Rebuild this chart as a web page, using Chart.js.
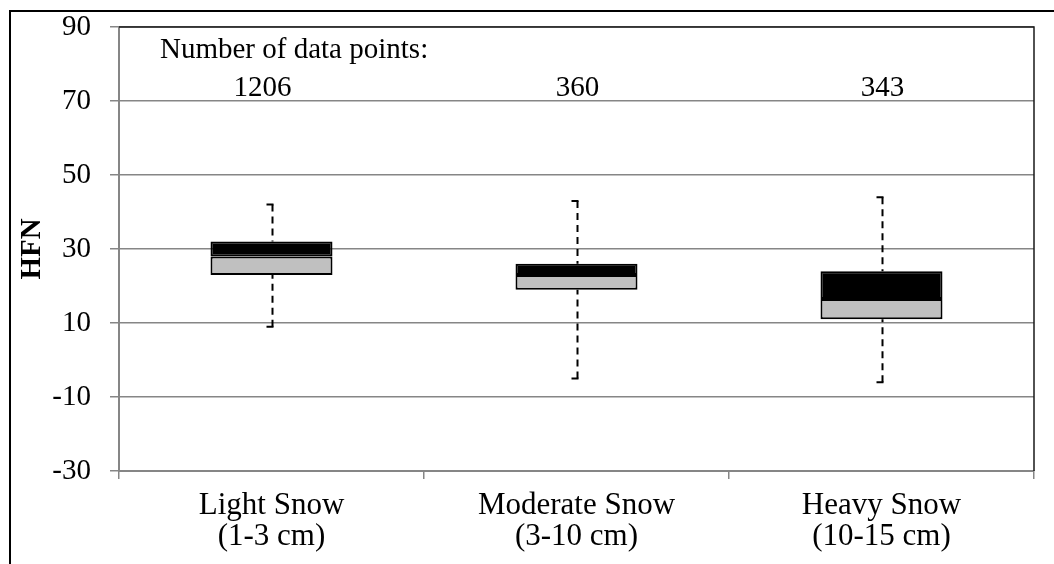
<!DOCTYPE html>
<html>
<head>
<meta charset="utf-8">
<script src="https://cdn.jsdelivr.net/npm/chart.js@4.4.1/dist/chart.umd.min.js"></script>
<style>
  html, body { margin: 0; padding: 0; background: #fff; }
  #wrap { position: relative; width: 1054px; height: 564px; }
</style>
</head>
<body>
<div id="wrap"><canvas id="c" width="1054" height="564"></canvas></div>
<script>
// Snowfall categories (two-line labels)
const categories = [
  ['Light Snow', '(1-3 cm)'],
  ['Moderate Snow', '(3-10 cm)'],
  ['Heavy Snow', '(10-15 cm)']
];
// HFN distribution per category
const whiskerMin = [9, -5, -6];
const q1 = [23, 19, 11];
const median = [28, 23, 16.5];
const q3 = [32, 26, 24];
const whiskerMax = [42, 43, 44];
// Sample counts shown above each box
const counts = ['1206', '360', '343'];
const countsHeading = 'Number of data points:';
// Y-axis range and step
const yMin = -30, yMax = 90, yStep = 20;

const SERIF = '"Liberation Serif", "Times New Roman", serif';

const lowerBox = q1.map((v, i) => [v, median[i]]);
const upperBox = median.map((v, i) => [v, q3[i]]);

const boxPlotExtras = {
  id: 'boxPlotExtras',
  beforeDatasetsDraw(chart) {
    const ctx = chart.ctx;
    const x = chart.scales.x, y = chart.scales.y;
    ctx.save();
    ctx.strokeStyle = '#000';
    ctx.lineWidth = 2;
    ctx.setLineDash([7, 5]);
    categories.forEach((_, i) => {
      const cx = Math.round(x.getPixelForValue(i)) + 0.5;
      const yTop = y.getPixelForValue(whiskerMax[i]);
      const yQ3 = y.getPixelForValue(q3[i]);
      const yQ1 = y.getPixelForValue(q1[i]);
      const yBot = y.getPixelForValue(whiskerMin[i]);
      ctx.beginPath();
      ctx.moveTo(cx, yTop); ctx.lineTo(cx, yQ3);
      ctx.moveTo(cx, yBot); ctx.lineTo(cx, yQ1);
      ctx.stroke();
    });
    ctx.setLineDash([]);
    categories.forEach((_, i) => {
      const cx = Math.round(x.getPixelForValue(i)) + 0.5;
      const yTop = y.getPixelForValue(whiskerMax[i]);
      const yBot = y.getPixelForValue(whiskerMin[i]);
      ctx.beginPath();
      ctx.moveTo(cx - 6, yTop); ctx.lineTo(cx + 1, yTop);
      ctx.moveTo(cx - 6, yBot); ctx.lineTo(cx + 1, yBot);
      ctx.stroke();
    });
    ctx.restore();
  },
  afterDraw(chart) {
    const ctx = chart.ctx;
    const a = chart.chartArea;
    const x = chart.scales.x;
    ctx.save();
    // plot-area frame: top and right edges
    ctx.strokeStyle = '#1a1a1a';
    ctx.lineWidth = 1.5;
    ctx.beginPath();
    ctx.moveTo(a.left, a.top); ctx.lineTo(a.right, a.top); ctx.lineTo(a.right, a.bottom);
    ctx.stroke();
    // chart-area frame
    ctx.strokeStyle = '#000';
    ctx.lineWidth = 2;
    ctx.beginPath();
    ctx.moveTo(10, 564); ctx.lineTo(10, 11); ctx.lineTo(1054, 11);
    ctx.stroke();
    // count annotations
    ctx.fillStyle = '#000';
    ctx.font = '29px ' + SERIF;
    ctx.textBaseline = 'alphabetic';
    ctx.textAlign = 'left';
    ctx.fillText(countsHeading, 160, a.top + 31);
    ctx.textAlign = 'center';
    counts.forEach((c, i) => {
      const nudge = i === 0 ? -9 : 1;
      ctx.fillText(c, x.getPixelForValue(i) + nudge, a.top + 69);
    });
    ctx.restore();
  }
};

new Chart(document.getElementById('c'), {
  type: 'bar',
  data: {
    labels: categories,
    datasets: [
      {
        data: lowerBox,
        backgroundColor: '#c0c0c0',
        borderColor: '#000',
        borderWidth: 2,
        borderSkipped: false,
        grouped: false,
        barPercentage: 0.4,
        categoryPercentage: 1
      },
      {
        data: upperBox,
        backgroundColor: '#000',
        borderColor: '#000',
        borderWidth: 2,
        borderSkipped: false,
        grouped: false,
        barPercentage: 0.4,
        categoryPercentage: 1
      }
    ]
  },
  options: {
    responsive: false,
    animation: false,
    layout: { padding: { left: 10, top: 27, right: 20, bottom: 0 } },
    plugins: { legend: { display: false }, tooltip: { enabled: false } },
    scales: {
      x: {
        offset: true,
        afterFit(scale) { scale.height = 93; },
        grid: { drawOnChartArea: false, drawTicks: true, tickLength: 8, color: '#868686', lineWidth: 1.5, offset: true },
        border: { color: '#868686', width: 2 },
        ticks: { color: '#000', font: { family: SERIF, size: 31, lineHeight: 1.0 }, padding: 11, maxRotation: 0 }
      },
      y: {
        min: yMin,
        max: yMax,
        afterFit(scale) {
          scale.width = 109;
          scale.paddingTop = 0;
          scale.paddingBottom = 0;
        },
        afterBuildTicks(scale) {
          const t = [];
          for (let v = yMin; v <= yMax; v += yStep) t.push({ value: v });
          scale.ticks = t;
        },
        grid: { color: '#868686', lineWidth: 1.5, tickLength: 9 },
        border: { color: '#868686', width: 2 },
        ticks: { color: '#000', font: { family: SERIF, size: 29 }, padding: 19 },
        title: { display: true, text: 'HFN', color: '#000', font: { family: SERIF, size: 29, weight: 'bold' }, padding: { top: 5, bottom: 0 } }
      }
    }
  },
  plugins: [boxPlotExtras]
});
</script>
</body>
</html>
